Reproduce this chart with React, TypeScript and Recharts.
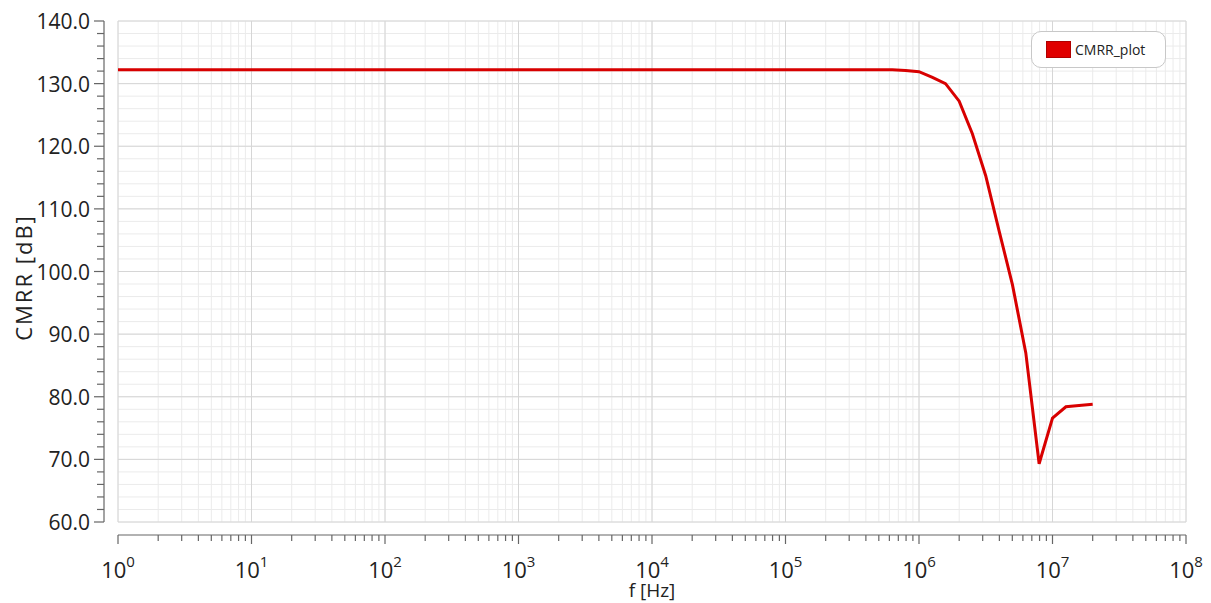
import React from 'react';
import { LineChart, Line, XAxis, YAxis, CartesianGrid, Legend, Label } from 'recharts';

// frequency sweep, Hz
const freqHz = [1, 10, 100, 1e3, 1e4, 1e5, 2e5, 3.98e5, 6.31e5, 7.94e5, 1e6, 1.26e6, 1.58e6, 2e6, 2.51e6, 3.16e6, 3.98e6, 5.01e6, 6.31e6, 7.94e6, 1e7, 1.26e7, 1.58e7, 2e7];
// CMRR, dB
const cmrrDb = [132.2, 132.2, 132.2, 132.2, 132.2, 132.2, 132.2, 132.2, 132.2, 132.1, 131.9, 131.0, 130.0, 127.2, 122.0, 115.3, 106.5, 97.9, 87.0, 69.3, 76.6, 78.4, 78.6, 78.8];

const decades = [1, 10, 100, 1e3, 1e4, 1e5, 1e6, 1e7, 1e8];
const xTicks = [...decades.slice(0, -1).flatMap((d) => [1, 2, 3, 4, 5, 6, 7, 8, 9].map((m) => m * d)), 1e8];
const yTicks = [60, 62, 64, 66, 68, 70, 72, 74, 76, 78, 80, 82, 84, 86, 88, 90, 92, 94, 96, 98, 100, 102, 104, 106, 108, 110, 112, 114, 116, 118, 120, 122, 124, 126, 128, 130, 132, 134, 136, 138, 140];
const yMajor = [60, 70, 80, 90, 100, 110, 120, 130, 140];

const data = freqHz.map((f, i) => ({ f, cmrr: cmrrDb[i] }));

const W = 1211;
const H = 603;
const M = { top: 21, right: 25, left: 0, bottom: 0 };
const Y_W = 118;
const X_H = 81;
const PLOT_W = W - Y_W - M.right;
const PLOT_H = H - M.top - X_H;
const GAP = 13; // axes sit detached from the plot box
const FONT = '"Open Sans", sans-serif';
const AXIS = '#666';

const isDecade = (v: number) => Math.abs(Math.log10(v) - Math.round(Math.log10(v))) < 1e-9;

const XTick = (props: any) => {
  const { x, y, payload, index } = props;
  const v = payload.value;
  const major = isDecade(v);
  const ay = y + GAP;
  return (
    <g>
      {index === 0 && <line x1={x} x2={x + PLOT_W} y1={ay} y2={ay} stroke={AXIS} strokeWidth={1.2} />}
      <line x1={x} x2={x} y1={ay} y2={ay + (major ? 9 : 6)} stroke={AXIS} strokeWidth={1.2} />
      {major && (
        <text x={x} y={y + 56} textAnchor="middle" fontFamily={FONT} fontSize={22} fill="#222">
          <tspan>10</tspan>
          <tspan dy={-11} fontSize={15}>{Math.round(Math.log10(v))}</tspan>
        </text>
      )}
    </g>
  );
};

const YTick = (props: any) => {
  const { x, y, payload, index } = props;
  const v = payload.value;
  const major = v % 10 === 0;
  const ax = x - GAP - 1;
  return (
    <g>
      {index === 0 && <line x1={ax} x2={ax} y1={y} y2={y - PLOT_H} stroke={AXIS} strokeWidth={1.2} />}
      <line x1={ax} x2={ax - (major ? 10 : 7)} y1={y} y2={y} stroke={AXIS} strokeWidth={1.2} />
      {major && (
        <text x={ax - 14} y={y + 8} textAnchor="end" fontFamily={FONT} fontSize={21} fill="#222">
          {v.toFixed(1)}
        </text>
      )}
    </g>
  );
};

const LegendBox = () => (
  <div
    style={{
      width: 135,
      height: 37,
      border: '1px solid #c8c8c8',
      borderRadius: 10,
      background: '#fff',
      display: 'flex',
      alignItems: 'center',
      boxSizing: 'border-box',
      paddingLeft: 14,
      fontFamily: FONT,
      fontSize: 14,
      color: '#222',
    }}
  >
    <span style={{ display: 'inline-block', width: 25, height: 17, background: '#e00000', border: '1px solid #b00000', boxSizing: 'border-box', marginRight: 4 }} />
    CMRR_plot
  </div>
);

export default function App() {
  return (
    <div style={{ position: 'absolute', left: 0, top: 0, background: '#fff' }}>
      <LineChart width={W} height={H} data={data} margin={M}>
        <CartesianGrid horizontalValues={yTicks} verticalValues={xTicks} stroke="#ebebeb" strokeWidth={1} />
        <CartesianGrid horizontalValues={yMajor} verticalValues={decades} stroke="#d6d6d6" strokeWidth={1} />
        <XAxis
          dataKey="f"
          type="number"
          scale="log"
          domain={[1, 1e8]}
          ticks={xTicks}
          interval={0}
          allowDataOverflow
          height={X_H}
          axisLine={false}
          tickLine={false}
          tickSize={0}
          tickMargin={0}
          tick={<XTick />}
        >
          <Label
            content={({ viewBox }: any) => (
              <text x={viewBox.x + viewBox.width / 2} y={viewBox.y + 75} textAnchor="middle" fontFamily={FONT} fontSize={19} fill="#222">
                f [Hz]
              </text>
            )}
          />
        </XAxis>
        <YAxis
          type="number"
          domain={[60, 140]}
          ticks={yTicks}
          interval={0}
          width={Y_W}
          axisLine={false}
          tickLine={false}
          tickSize={0}
          tickMargin={0}
          tick={<YTick />}
        >
          <Label
            content={({ viewBox }: any) => {
              const cx = viewBox.x + 23;
              const cy = viewBox.y + viewBox.height / 2 + 6;
              return (
                <text x={cx} y={cy} transform={`rotate(-90 ${cx} ${cy})`} textAnchor="middle" dominantBaseline="central" fontFamily={FONT} fontSize={22} letterSpacing={2} fill="#222">
                  CMRR [dB]
                </text>
              );
            }}
          />
        </YAxis>
        <Legend
          layout="horizontal"
          verticalAlign="middle"
          align="center"
          wrapperStyle={{ top: 31, left: 1031, width: 135, height: 37 }}
          content={<LegendBox />}
        />
        <Line type="linear" dataKey="cmrr" stroke="#d80000" strokeWidth={3} dot={false} isAnimationActive={false} />
      </LineChart>
    </div>
  );
}
